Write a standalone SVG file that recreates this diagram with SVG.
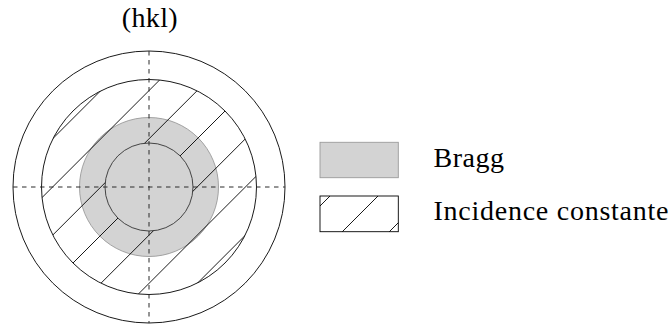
<svg xmlns="http://www.w3.org/2000/svg" width="672" height="329" viewBox="0 0 672 329">
<style>
.ring{fill:none;stroke:#000;stroke-width:0.9}
.hatch{stroke:#000;stroke-width:0.9;fill:none}
.axis{stroke:#2a2a2a;stroke-width:1;stroke-dasharray:4.5 4.5;fill:none}
.bragg{fill:#d3d3d3;stroke:#9a9a9a;stroke-width:0.9}
.lbl{font-family:"Liberation Serif","Times New Roman",serif;font-size:28px;fill:#000}
</style>
<defs>
<clipPath id="annulus">
<path clip-rule="evenodd" d="M41.5,187a107.5,107.5 0 1,0 215,0a107.5,107.5 0 1,0 -215,0Z M105,187a44,44 0 1,0 88,0a44,44 0 1,0 -88,0Z"/>
</clipPath>
<clipPath id="legclip">
<rect x="320" y="196" width="78.3" height="35.7"/>
</clipPath>
</defs>
<rect width="672" height="329" fill="#fff"/>
<text class="lbl" x="149.7" y="27" text-anchor="middle" textLength="56">(hkl)</text>
<g id="diagram">
<circle class="ring" cx="149" cy="187" r="136"/>
<circle class="ring" cx="149" cy="187" r="107.5"/>
<circle class="bragg" cx="149" cy="187" r="69.5"/>
<g clip-path="url(#annulus)" class="hatch">
<line x1="-43.3" y1="234.7" x2="196.7" y2="-5.3"/>
<line x1="-19.2" y1="258.8" x2="220.8" y2="18.8"/>
<line x1="4.9" y1="282.9" x2="244.9" y2="42.9"/>
<line x1="29" y1="307" x2="269" y2="67"/>
<line x1="53.1" y1="331.1" x2="293.1" y2="91.1"/>
<line x1="77.2" y1="355.2" x2="317.2" y2="115.2"/>
<line x1="101.3" y1="379.3" x2="341.3" y2="139.3"/>
</g>
<circle cx="149" cy="187" r="44" fill="none" stroke="#333" stroke-width="0.9"/>
</g>
<g id="connectors">
<line class="axis" x1="13" y1="187" x2="285" y2="187"/>
<line class="axis" x1="149" y1="51" x2="149" y2="323"/>
</g>
<g id="legend-bragg">
<rect class="bragg" x="320" y="142.3" width="78.3" height="35.4"/>
<text class="lbl" x="433.5" y="166.7" textLength="70.5">Bragg</text>
</g>
<g id="legend-incidence">
<rect x="320" y="196" width="78.3" height="35.7" fill="#fff" stroke="#000" stroke-width="0.9"/>
<g clip-path="url(#legclip)" class="hatch">
<line x1="300" y1="226" x2="340" y2="186"/>
<line x1="332" y1="242" x2="388" y2="186"/>
<line x1="380" y1="241" x2="420" y2="201"/>
</g>
<text class="lbl" x="433.5" y="219.5" textLength="235">Incidence constante</text>
</g>
</svg>
